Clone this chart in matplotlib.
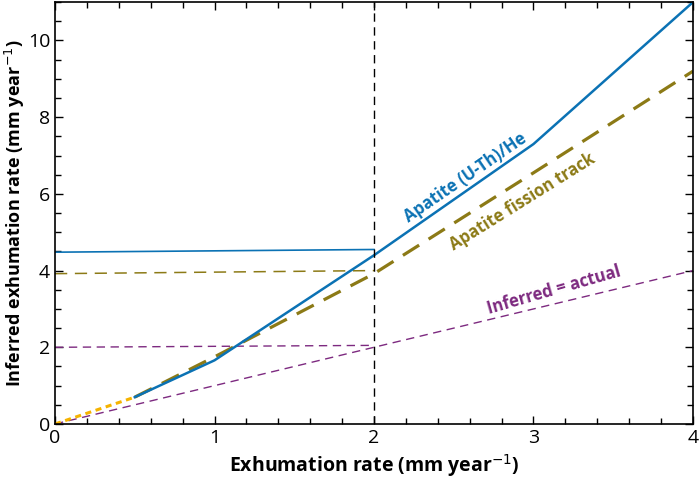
import matplotlib.pyplot as plt
from matplotlib.ticker import MultipleLocator

# data
ahe_x = [0.5, 1.0, 2.0, 3.0, 4.0]
ahe_y = [0.7, 1.66, 4.4, 7.3, 11.0]
aft_x = [0.5, 1.0, 2.0, 3.0, 4.0]
aft_y = [0.7, 1.75, 3.92, 6.55, 9.2]
low_x = [0.0, 0.5]
low_y = [0.0, 0.7]
ahe_flat_x = [0.0, 2.0]
ahe_flat_y = [4.48, 4.55]
aft_flat_x = [0.0, 2.0]
aft_flat_y = [3.92, 4.0]
one_flat_x = [0.0, 2.0]
one_flat_y = [2.0, 2.05]
one_x = [0.0, 4.0]
one_y = [0.0, 4.0]

blue = "#0b72b4"
olive = "#8c7a16"
purple = "#7d2a80"
yellow = "#f5b300"

plt.rcParams['font.family'] = ['Open Sans', 'DejaVu Sans']

fig = plt.figure(figsize=(6.99, 4.78), dpi=100)
ax = fig.add_axes([0.0787, 0.113, 0.9127, 0.8825])

ax.plot(one_x, one_y, color=purple, lw=1.0, dashes=(6, 4))
ax.plot(one_flat_x, one_flat_y, color=purple, lw=1.0, dashes=(6, 4))
ax.plot(aft_flat_x, aft_flat_y, color=olive, lw=1.1, dashes=(8, 5))
ax.plot(ahe_flat_x, ahe_flat_y, color=blue, lw=1.2)
ax.plot(low_x, low_y, color=yellow, lw=2.2, dashes=(2, 1.5))
ax.plot(aft_x, aft_y, color=olive, lw=2.3, dashes=(6, 3.5))
ax.plot(ahe_x, ahe_y, color=blue, lw=1.8)
ax.axvline(2, color="black", lw=1.0, dashes=(6, 4))

ax.text(2.57, 6.42, "Apatite (U-Th)/He", color=blue, rotation=34.5,
        ha="center", va="center", fontsize=12, fontweight="bold")
ax.text(2.93, 5.78, "Apatite fission track", color=olive, rotation=32,
        ha="center", va="center", fontsize=12, fontweight="bold")
ax.text(3.13, 3.5, "Inferred = actual", color=purple, rotation=16,
        ha="center", va="center", fontsize=12, fontweight="bold")

ax.set_xlim(0, 4)
ax.set_ylim(0, 11)
ax.xaxis.set_major_locator(MultipleLocator(1))
ax.xaxis.set_minor_locator(MultipleLocator(0.2))
ax.yaxis.set_major_locator(MultipleLocator(2))
ax.yaxis.set_minor_locator(MultipleLocator(0.5))
ax.tick_params(which="both", direction="in", top=True, right=True, labelsize=14)
ax.tick_params(which="major", length=6, width=1)
ax.tick_params(which="minor", length=4, width=1)
for s in ax.spines.values():
    s.set_linewidth(1.2)

ax.set_xlabel("Exhumation rate (mm year$^{-1}$)", fontsize=14, fontweight="bold")
ax.set_ylabel("Inferred exhumation rate (mm year$^{-1}$)", fontsize=13,
              fontweight="bold")
ax.yaxis.set_label_coords(-0.044, 0.5)

fig.savefig("out.png", dpi=100)
